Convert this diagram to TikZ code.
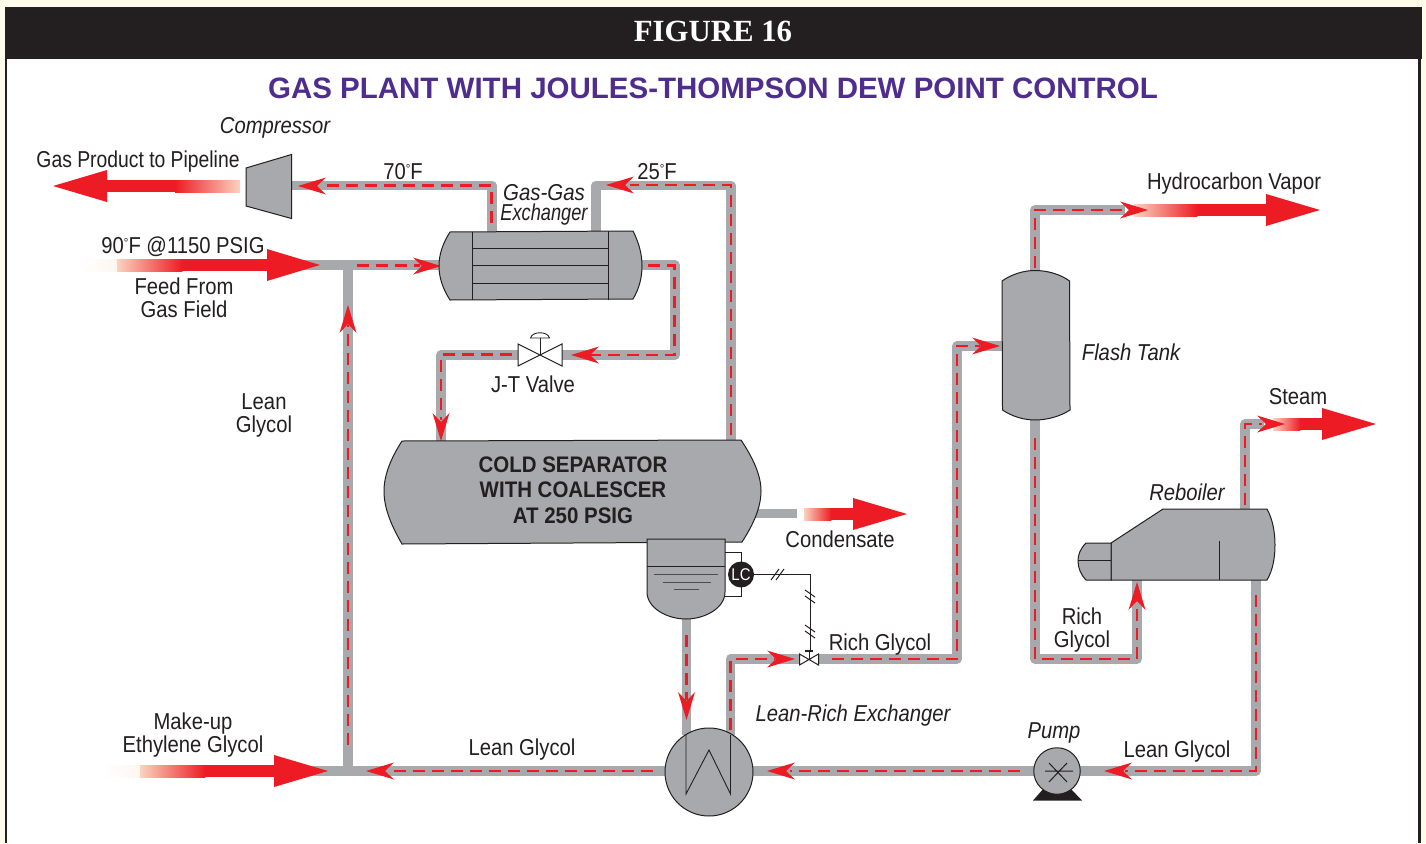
\documentclass[tikz,border=0pt]{standalone}
\usepackage{fontspec}
\setmainfont[FakeStretch=0.88]{Liberation Sans}
\newfontfamily\titlefont{Liberation Serif}
\newfontfamily\headfont{Liberation Sans}
\newfontfamily\sepfont[FakeStretch=0.91]{Liberation Sans}
\usetikzlibrary{calc}
\definecolor{pipegray}{HTML}{A7A9AC}
\definecolor{flowred}{HTML}{ED1C24}
\definecolor{inkblack}{HTML}{231F20}
\definecolor{titlepurple}{HTML}{4F2D8F}
\definecolor{paper}{HTML}{FFFBEA}
\definecolor{peach}{HTML}{FAD3BF}
\definecolor{faint}{HTML}{FEF6F0}
\newcommand{\flowtip}[3]{\fill[flowred,shift={(#1,#2)},rotate=#3] (0,0) -- (-28,8.5) -- (-19,0) -- (-28,-8.5) -- cycle;}
% #1 white-from x, #2 peach x, #3 red-from x, #4 back x, #5 tip x, #6 y
\newcommand{\bigflow}[6]{%
 \shade[left color=white,right color=faint] (#1,#6-6) rectangle (#2+0.3,#6+6);
 \shade[left color=peach,right color=flowred] (#2,#6-6) rectangle (#3+0.3,#6+6);
 \fill[flowred] (#3,#6-6) rectangle (#4+0.5,#6+6);
 \fill[flowred] (#5,#6) -- (#4,#6-16) -- (#4,#6+16) -- cycle;}
\newcommand{\degs}{\raisebox{0.55ex}{\fontsize{13}{13}\selectfont °}}
\tikzset{
 pipe/.style={draw=pipegray,line width=9.5pt,line join=round,line cap=butt},
 flow/.style={draw=flowred,line width=2.2pt,dash pattern=on 12pt off 7pt,line join=miter},
 equip/.style={draw=inkblack,fill=pipegray,line width=1pt},
 inner/.style={draw=inkblack,line width=0.9pt},
 thin line/.style={draw=inkblack,line width=1pt},
 lab/.style={font=\fontsize{23}{23}\selectfont,text=inkblack,inner sep=0pt,align=center},
 ilab/.style={font=\fontsize{23}{23}\selectfont\itshape,text=inkblack,inner sep=0pt,align=center},
 port/.style={inner sep=0pt,minimum size=0pt},
}
\begin{document}
\begin{tikzpicture}[x=1pt,y=-1pt,line cap=butt]
\useasboundingbox (0,0) rectangle (1426,843);
\fill[paper] (0,0) rectangle (1426,843);
\fill[white] (7,59) rectangle (1418,843);
\fill[inkblack] (5,7) rectangle (1422,59);
\fill[inkblack] (5,59) rectangle (7,843);
\fill[inkblack] (1418,59) rectangle (1421,843);
\node[inner sep=0pt,text=white] (fig) at (713,31) {\titlefont\bfseries\fontsize{30.8}{31}\selectfont FIGURE 16};
\node[inner sep=0pt,text=titlepurple] (ttl) at (713,88) {\headfont\bfseries\fontsize{29.5}{30}\selectfont GAS PLANT WITH JOULES-THOMPSON DEW POINT CONTROL};
% ports
\coordinate (c1) at (292,185.5);
\coordinate (e1) at (492,232);
\coordinate (e2) at (596,232);
\coordinate (sep1) at (731,440);
\coordinate (feedjoin) at (348,265);
\coordinate (feedend) at (300,265);
\coordinate (e3) at (440,265);
\coordinate (e4) at (642,265);
\coordinate (v1) at (562,355);
\coordinate (v2) at (518,355);
\coordinate (sep2) at (441,441);
\coordinate (sump) at (686.5,619);
\coordinate (hx1) at (686.5,735);
\coordinate (hx2) at (730.5,735);
\coordinate (cv1) at (799,659);
\coordinate (cv2) at (819,659);
\coordinate (ft1) at (1002,346);
\coordinate (ft2) at (1035,270);
\coordinate (ft3) at (1035,420);
\coordinate (hv) at (1125,210);
\coordinate (rb1) at (1137,580);
\coordinate (rb2) at (1245,509);
\coordinate (rb3) at (1256,580);
\coordinate (st) at (1264,424);
\coordinate (hxr) at (753,771);
\coordinate (hxl) at (665,771);
\coordinate (pr) at (1080,771);
\coordinate (pl) at (1034,771);
\coordinate (mu) at (305,771);
\coordinate (muj) at (348,771);
\coordinate (cnd1) at (750,513.5);
\coordinate (cnd2) at (797,513.5);
% pipes
\draw[pipe] (c1) -- (c1-|e1) -- (e1);
\draw[pipe] (e2) -- (e2|-c1) -- (sep1|-c1) -- (sep1);
\draw[pipe] (feedend) -- (e3);
\draw[pipe] (feedjoin) -- (muj);
\draw[pipe] (e4) -- (675,265) -- (675,355) -- (v1);
\draw[pipe] (v2) -- (sep2|-v2) -- (sep2);
\draw[pipe] (sump) -- (hx1);
\draw[pipe] (hx2) -- (hx2|-cv1) -- (cv1);
\draw[pipe] (cv2) -- (957,659) -- (957,346) -- (ft1);
\draw[pipe] (ft2) -- (1035,210) -- (hv);
\draw[pipe] (ft3) -- (1035,659) -- (1137,659) -- (rb1);
\draw[pipe] (rb2) -- (1245,424) -- (st);
\draw[pipe] (rb3) -- (1256,771) -- (pr);
\draw[pipe] (pl) -- (hxr);
\draw[pipe] (hxl) -- (mu);
\draw[pipe] (cnd1) -- (cnd2);
% red dashes
\draw[flow] (491.5,223) -- (491.5,185.5) -- (325,185.5);
\draw[flow] (731,435) -- (731,185) -- (630,185);
\draw[flow] (357,265.5) -- (420,265.5);
\draw[flow] (348,745) -- (348,325);
\draw[flow] (648,265.5) -- (674.5,265.5) -- (674.5,355) -- (590,355);
\draw[flow] (512,354.5) -- (441,354.5) -- (441,420);
\draw[flow] (686.5,635) -- (686.5,700);
\draw[flow] (730.5,730) -- (730.5,659) -- (775,659);
\draw[flow] (832,659) -- (957,659) -- (957,346) -- (980,346);
\draw[flow] (1035,268) -- (1035,210) -- (1128,210);
\draw[flow] (1035,438) -- (1035,659) -- (1137,659) -- (1137,605);
\draw[flow] (1245,505) -- (1245,424) -- (1262,424);
\draw[flow] (1256,595) -- (1256,771) -- (1125,771);
\draw[flow] (1020,771) -- (790,771);
\draw[flow] (653,771) -- (388,771);
% big arrows
\shade[left color=flowred,right color=peach] (175,180) rectangle (240,192);
\fill[flowred] (107,180) rectangle (175.5,192);
\fill[flowred] (53,186) -- (107,170) -- (107,202) -- cycle;
\bigflow{80}{117}{182}{267}{320}{265}
\bigflow{103}{140}{205}{274}{328}{771}
\bigflow{1133.5}{1134}{1197}{1266}{1320}{210}
\bigflow{1272.5}{1273}{1300}{1322}{1376}{424}
\bigflow{803.5}{804}{831}{853}{907}{514}
% flow tips
\flowtip{298}{186}{180}
\flowtip{441}{266}{0}
\flowtip{606}{185}{180}
\flowtip{571}{355}{180}
\flowtip{441}{441}{-90}
\flowtip{348}{305}{90}
\flowtip{686.5}{720}{-90}
\flowtip{795}{659}{0}
\flowtip{1000}{346}{0}
\flowtip{1148}{210}{0}
\flowtip{1137}{582}{90}
\flowtip{1285}{424}{0}
\flowtip{1104}{771}{180}
\flowtip{767}{771}{180}
\flowtip{366}{771}{180}
% compressor
\node[port] (comp) at (269,186) {};
\draw[equip] (246,168) -- (291.5,154.5) -- (291.5,218.5) -- (246,206) -- cycle;
% gas-gas exchanger
\node[port] (ggx) at (541,265) {};
\draw[equip] (450,232) -- (633,231) .. controls (639,243) and (642,254) .. (642,266) .. controls (642,278) and (639,289) .. (633,299) -- (450,300) .. controls (443,289) and (439,278) .. (439,266) .. controls (439,254) and (443,243) .. (450,232) -- cycle;
\draw[inner] (472,232) -- (472,300) (608,231) -- (608,300);
\draw[inner] (472,248.5) -- (608,248.5) (472,265.5) -- (608,265.5) (472,283) -- (608,283);
% JT valve
\node[port] (jt) at (540,355) {};
\draw[draw=inkblack,fill=white,line width=1pt] (518,344) -- (562,366) -- (562,344) -- (518,366) -- cycle;
\draw[inner] (540,355) -- (540,338);
\draw[inner] (530.5,338) .. controls (532,331) and (548,331) .. (549.5,338) -- cycle;
% separator
\node[port] (sep) at (572,492) {};
\draw[equip] (402,441) -- (741,440) .. controls (753,458) and (761,475) .. (761,491) .. controls (761,508) and (753,525) .. (742,542) -- (402,544) .. controls (391,525) and (384,508) .. (384,491) .. controls (384,475) and (391,458) .. (402,441) -- cycle;
% sump
\draw[equip] (647,539) -- (725,539) -- (725,592) .. controls (725,608) and (705,619) .. (686,619) .. controls (667,619) and (647,608) .. (647,592) -- cycle;
\draw[inner] (647,566) -- (725,566);
\draw[inner,draw=inkblack!80] (654,574) -- (718,574) (663,582) -- (711,582) (674,589) -- (699,589);
% level controller
\draw[thin line] (725,552) -- (741,552) -- (741,596) -- (725,596);
\node[circle,fill=inkblack,minimum size=26pt,inner sep=0pt,text=white,font=\fontsize{17}{17}\selectfont] (lc) at (741,574.5) {LC};
\coordinate (cvtop) at (810,650);
\draw[thin line] (lc.east) -- (810,574.5) -- (cvtop);
\draw[thin line] (771,580) -- (779,569) (776,580) -- (784,569);
\draw[thin line] (805,590) -- (815,597) (805,596) -- (815,603);
\draw[thin line] (805,625) -- (815,632) (805,631) -- (815,638);
% control valve
\node[port] (cv) at (809,659) {};
\draw[draw=inkblack,fill=white,line width=1pt] (799.5,654) -- (818.5,665) -- (818.5,654) -- (799.5,665) -- cycle;
\draw[thin line] (809,659) -- (809,651);
\draw[line width=1.5pt,inkblack] (805,651) -- (813,651);
% lean-rich exchanger
\node[circle,draw=inkblack,fill=pipegray,line width=1pt,minimum size=88pt,inner sep=0pt] (hx) at (709,772) {};
\draw[inner] (686,735) -- (686,794) -- (709,750) -- (730.5,794) -- (730.5,735);
% flash tank
\node[port] (ft) at (1036,346) {};
\draw[equip] (1002,281) .. controls (1012,274) and (1024,270.5) .. (1035,270.5) .. controls (1047,270.5) and (1060,274) .. (1069.5,281) -- (1070,410) .. controls (1060,416.5) and (1047,420) .. (1035,420) .. controls (1024,420) and (1012,416.5) .. (1002.5,410) -- cycle;
% reboiler
\node[port] (rb) at (1190,545) {};
\draw[equip] (1111,543) -- (1163,509) -- (1267,509) .. controls (1273,520) and (1275,533) .. (1275,545) .. controls (1275,557) and (1273,570) .. (1267,580) -- (1111,580) -- cycle;
\draw[equip] (1111,543) -- (1086,543) .. controls (1080,549) and (1078,555) .. (1078,561) .. controls (1078,568) and (1081,575) .. (1086,580) -- (1111,580) -- cycle;
\draw[inner] (1078,560.5) -- (1111,560.5);
\draw[inner] (1219,541) -- (1219,580);
% pump
\fill[inkblack] (1033,800.5) -- (1044,788) -- (1070,788) -- (1082,800.5) -- cycle;
\node[circle,draw=inkblack,fill=pipegray,line width=1pt,minimum size=46.5pt,inner sep=0pt] (pump) at (1057,771) {};
\draw[thin line] (1045,771) -- (1073,771) (1049,763) -- (1067,782) (1067,763) -- (1049,782);
% labels
\node[ilab] (l1) at (275,128) {Compressor};
\node[lab] (l2) at (138,162) {\scalebox{0.955}[1]{Gas Product to Pipeline}};
\node[lab] (l3) at (403,172) {70\degs F};
\node[lab] (l4) at (657,172) {25\degs F};
\node[ilab,font=\fontsize{23}{20.5}\selectfont\itshape] (l5) at (544,205) {\scalebox{1.01}[1]{Gas-Gas}\\\scalebox{0.9}[1]{Exchanger}};
\node[lab] (l6) at (183,247) {90\degs F @1150 PSIG};
\node[lab] (l7) at (184,298) {Feed From\\Gas Field};
\node[lab] (l8) at (533,384.5) {J-T Valve};
\node[lab] (l9) at (264,415) {Lean\\Glycol};
\node[inner sep=0pt,font=\sepfont\bfseries\fontsize{22.5}{25.5}\selectfont,align=center,text=inkblack] (l10) at (573,490) {COLD SEPARATOR\\WITH COALESCER\\AT 250 PSIG};
\node[lab] (l11) at (840,539.5) {Condensate};
\node[lab] (l12) at (880,644.5) {Rich Glycol};
\node[ilab] (l13) at (853,716) {Lean-Rich Exchanger};
\node[lab] (l14) at (522,749.5) {Lean Glycol};
\node[lab] (l15) at (193,735) {Make-up\\Ethylene Glycol};
\node[ilab] (l16) at (1054,733) {Pump};
\node[lab] (l17) at (1177,751.5) {Lean Glycol};
\node[lab] (l18) at (1082,630) {Rich\\Glycol};
\node[ilab] (l19) at (1187,492.5) {Reboiler};
\node[ilab] (l20) at (1131,352) {Flash Tank};
\node[lab] (l21) at (1234,183.5) {Hydrocarbon Vapor};
\node[lab] (l22) at (1298,397) {Steam};
\end{tikzpicture}
\end{document}
